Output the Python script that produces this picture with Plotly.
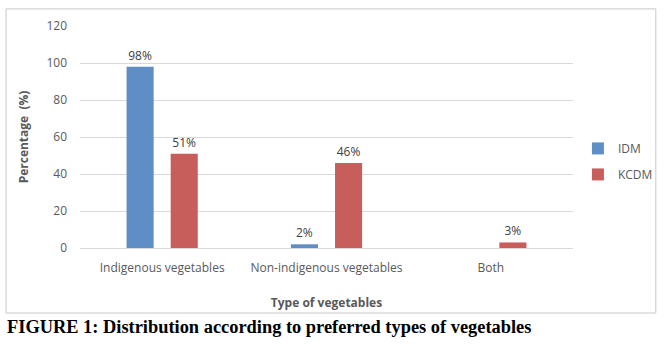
import plotly.graph_objects as go

categories = ["Indigenous vegetables", "Non-indigenous vegetables", "Both"]
idm = [98, 2, 0]
kcdm = [51, 46, 3]
idm_labels = ["98%", "2%", ""]
kcdm_labels = ["51%", "46%", "3%"]
y_ticks = [0, 20, 40, 60, 80, 100, 120]

font_family = "Open Sans, Noto Sans, sans-serif"
text_gray = "#595959"

fig = go.Figure()
fig.add_trace(go.Bar(
    name="IDM", x=categories, y=idm, text=idm_labels, legendgroup="a",
    textposition="outside", cliponaxis=False,
    marker=dict(color="#5F8DC6", line=dict(width=0)),
    textfont=dict(size=12, color="#404040", family=font_family),
))
fig.add_trace(go.Bar(
    name="KCDM", x=categories, y=kcdm, text=kcdm_labels, legendgroup="b",
    textposition="outside", cliponaxis=False,
    marker=dict(color="#C85E5B", line=dict(width=0)),
    textfont=dict(size=12, color="#404040", family=font_family),
))

fig.update_layout(
    width=666, height=357,
    margin=dict(l=80, r=93, t=26, b=109, autoexpand=False),
    paper_bgcolor="white", plot_bgcolor="white",
    barmode="group", bargap=0.463, bargroupgap=0.386,
    font=dict(family=font_family, size=12, color=text_gray),
    showlegend=True,
    legend=dict(x=1.01, y=0.39, xanchor="left", yanchor="middle",
                font=dict(size=12, color=text_gray), itemwidth=30,
                tracegroupgap=7, bgcolor="rgba(0,0,0,0)"),
    xaxis=dict(showgrid=False, showline=True, linecolor="#d9d9d9", linewidth=1,
               ticks="", automargin=False, ticklabelstandoff=9,
               tickfont=dict(size=12, color=text_gray),
               title=dict(text="<b>Type of vegetables</b>", standoff=23,
                          font=dict(size=12, color=text_gray))),
    yaxis=dict(range=[0, 120], tickvals=y_ticks, showgrid=True, automargin=False,
               gridcolor="#d9d9d9", gridwidth=1, zeroline=False, showline=False,
               ticks="", ticklabelstandoff=12,
               tickfont=dict(size=12, color=text_gray),
               title=dict(text="<b>Percentage  (%)</b>", standoff=15,
                          font=dict(size=12, color=text_gray))),
    shapes=[dict(type="rect", xref="paper", yref="paper",
                 x0=-0.150, x1=1.168, y0=-0.293, y1=1.077,
                 line=dict(color="#c8c8c8", width=1), fillcolor="rgba(0,0,0,0)",
                 layer="above")],
    annotations=[dict(text="<b>FIGURE 1: Distribution according to preferred types of vegetables</b>",
                      xref="paper", yref="paper", x=-0.152, y=-0.356,
                      xanchor="left", yanchor="middle", showarrow=False,
                      font=dict(family="Liberation Serif, Times New Roman, serif",
                                size=18.4, color="black"))],
)

fig.write_html("out.html", config={"displayModeBar": False},
               post_script="document.body.style.margin='0';document.body.style.overflow='hidden';")
